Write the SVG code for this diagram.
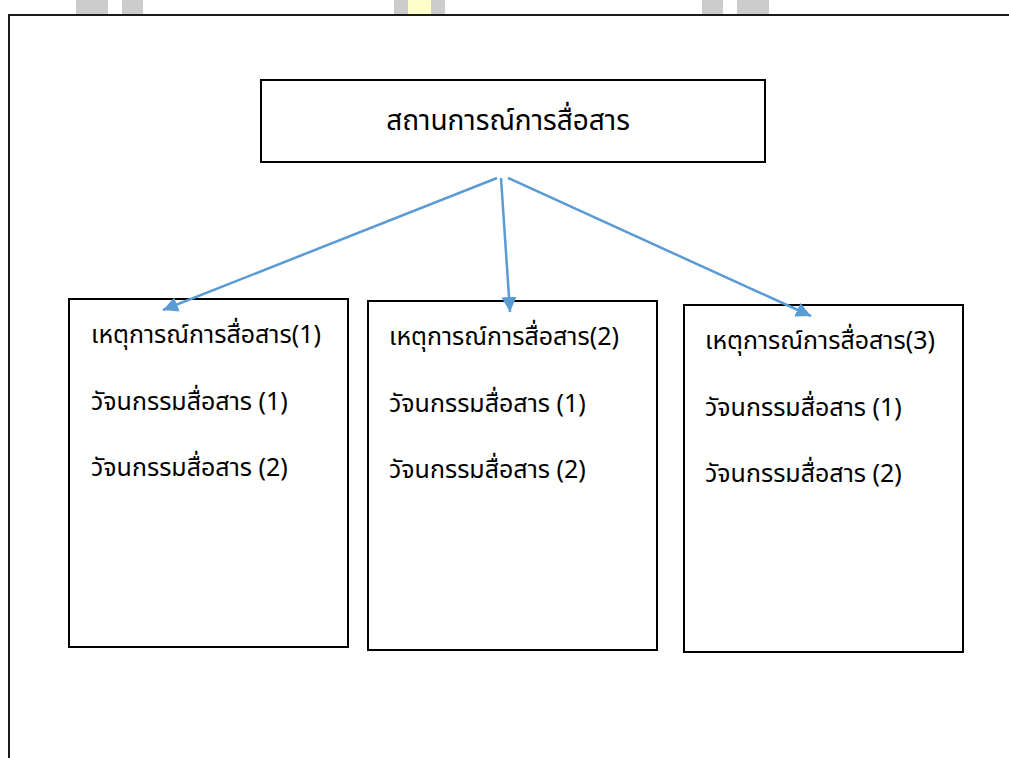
<svg xmlns="http://www.w3.org/2000/svg" width="1009" height="758" viewBox="0 0 1009 758">
  <style>
    .box { fill: #ffffff; stroke: #000000; stroke-width: 2; }
    .frame { fill: none; stroke: #1a1a1a; stroke-width: 2; }
    .wm { fill: #cccccc; }
    .wmy { fill: #ffffcc; }
    .title { font-family: "Noto Sans Thai", "Leelawadee UI", "Noto Sans", "DejaVu Sans", sans-serif; font-size: 28px; fill: #000; }
    .lbl { font-family: "Noto Sans Thai", "Leelawadee UI", "Noto Sans", "DejaVu Sans", sans-serif; font-size: 25px; fill: #000; }
    .conn { fill: none; stroke: #5B9BD5; stroke-width: 2.5; }
  </style>
  <defs>
    <marker id="arrow" markerUnits="userSpaceOnUse" markerWidth="16" markerHeight="16" viewBox="0 0 16 16" refX="15" refY="8" orient="auto">
      <path d="M0,0.5 L15,8 L0,15.5 Z" fill="#5B9BD5"/>
    </marker>
  </defs>
  <rect width="1009" height="758" fill="#ffffff"/>
  <g id="watermark">
    <rect class="wm" x="76" y="0" width="32" height="14"/>
    <rect class="wm" x="122" y="0" width="21" height="14"/>
    <rect class="wm" x="394" y="0" width="14" height="14"/>
    <rect class="wmy" x="408" y="0" width="23" height="14"/>
    <rect class="wm" x="431" y="0" width="14" height="14"/>
    <rect class="wm" x="702" y="0" width="21" height="14"/>
    <rect class="wm" x="737" y="0" width="32" height="14"/>
  </g>
  <path class="frame" d="M9,760 V15 H1011"/>
  <g id="node-situation">
    <rect class="box" x="261" y="80" width="504" height="82"/>
    <text class="title" x="508" y="130" text-anchor="middle">สถานการณ์การสื่อสาร</text>
  </g>
  <g id="node-event1">
    <rect class="box" x="69" y="299" width="279" height="348"/>
    <text class="lbl" x="91" y="343">เหตุการณ์การสื่อสาร(1)</text>
    <text class="lbl" x="91" y="410">วัจนกรรมสื่อสาร (1)</text>
    <text class="lbl" x="91" y="476">วัจนกรรมสื่อสาร (2)</text>
  </g>
  <g id="node-event2">
    <rect class="box" x="368" y="301" width="289" height="349"/>
    <text class="lbl" x="389" y="345">เหตุการณ์การสื่อสาร(2)</text>
    <text class="lbl" x="389" y="412">วัจนกรรมสื่อสาร (1)</text>
    <text class="lbl" x="389" y="478">วัจนกรรมสื่อสาร (2)</text>
  </g>
  <g id="node-event3">
    <rect class="box" x="684" y="305" width="279" height="347"/>
    <text class="lbl" x="705" y="349">เหตุการณ์การสื่อสาร(3)</text>
    <text class="lbl" x="705" y="416">วัจนกรรมสื่อสาร (1)</text>
    <text class="lbl" x="705" y="482">วัจนกรรมสื่อสาร (2)</text>
  </g>
  <g id="connectors">
    <line class="conn" x1="497" y1="178" x2="163" y2="310" marker-end="url(#arrow)"/>
    <line class="conn" x1="501" y1="178" x2="510" y2="312" marker-end="url(#arrow)"/>
    <line class="conn" x1="508" y1="178" x2="811" y2="316" marker-end="url(#arrow)"/>
  </g>
</svg>
